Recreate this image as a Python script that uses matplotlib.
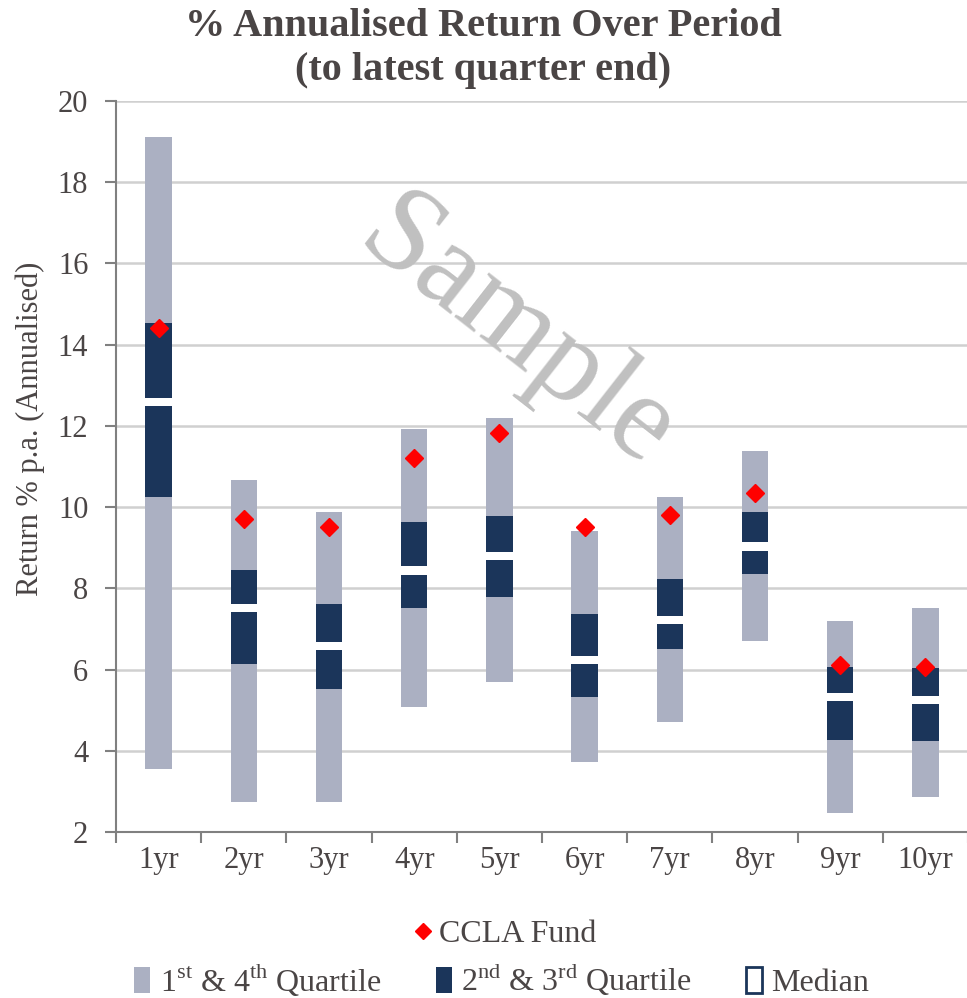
import numpy as np
from matplotlib import pyplot as plt
from matplotlib.patches import Patch
from matplotlib.lines import Line2D

plt.rcParams['font.family'] = ['Liberation Serif', 'DejaVu Serif']
plt.rcParams['mathtext.fontset'] = 'custom'
plt.rcParams['mathtext.rm'] = 'Liberation Serif'

periods = ['1yr', '2yr', '3yr', '4yr', '5yr', '6yr', '7yr', '8yr', '9yr', '10yr']
low = [3.56, 2.75, 2.75, 5.07, 5.70, 3.73, 4.71, 6.70, 2.46, 2.87]      # bottom of range
q3 = [10.24, 6.14, 5.51, 7.52, 7.79, 5.33, 6.50, 8.36, 4.27, 4.25]      # lower quartile
median = [12.58, 7.52, 6.58, 8.44, 8.80, 6.24, 7.22, 9.03, 5.32, 5.25]
q1 = [14.54, 8.45, 7.61, 9.64, 9.78, 7.36, 8.23, 9.88, 6.06, 6.03]      # upper quartile
high = [19.12, 10.67, 9.89, 11.93, 12.20, 9.41, 10.26, 11.37, 7.20, 7.51]
fund = [14.42, 9.70, 9.51, 11.22, 11.82, 9.52, 9.81, 10.36, 6.11, 6.06]

light = '#abb0c2'
dark = '#1b355a'
txt = '#4a4545'

fig = plt.figure(figsize=(9.67, 9.98), dpi=100)
ax = fig.add_axes([0.12, 0.1663, 0.881, 0.7325])

x = np.arange(len(periods))
low_a, q3_a, med_a, q1_a, high_a = map(np.array, (low, q3, median, q1, high))
w = 0.31
ax.bar(x, high_a - low_a, bottom=low_a, width=w, color=light, zorder=2)
ax.bar(x, q1_a - q3_a, bottom=q3_a, width=w, color=dark, zorder=3)
ax.bar(x, 0.2, bottom=med_a - 0.1, width=w, color='white', zorder=4)
ax.plot(x, fund, 'D', color='red', markersize=9, zorder=5)

ax.set_ylim(2, 20)
ax.set_yticks(np.arange(2, 21, 2))
ax.set_xlim(-0.5, len(periods) - 0.5)
ax.set_xticks(x)
ax.set_xticklabels(periods)
ax.set_xticks(np.arange(-0.5, len(periods)), minor=True)
ax.tick_params(axis='x', which='major', length=0, pad=10, labelsize=22, labelcolor=txt)
ax.tick_params(axis='x', which='minor', length=8, width=1.5, color='#808080')
ax.tick_params(axis='y', length=8, width=1.5, color='#808080', labelsize=22, labelcolor=txt, pad=12)
ax.grid(axis='y', color='#d0d0d0', linewidth=1.8, zorder=0)
ax.set_axisbelow(True)
for s in ['top', 'right']:
    ax.spines[s].set_visible(False)
for s in ['left', 'bottom']:
    ax.spines[s].set_color('#808080')
    ax.spines[s].set_linewidth(1.5)

ax.set_ylabel('Return % p.a. (Annualised)', fontsize=22, color=txt)
ax.yaxis.set_label_coords(-0.083, 0.551)
fig.suptitle('% Annualised Return Over Period\n(to latest quarter end)', y=0.992,
             fontsize=29, fontweight='bold', color=txt, linespacing=1.25)

ax.text(0.47, 0.68, 'Sample', transform=ax.transAxes, rotation=-38, fontsize=88,
        color='#c0c0c0', ha='center', va='center', zorder=1)

h_fund = Line2D([], [], marker='D', color='red', linestyle='none', markersize=8)
fig.legend([h_fund], ['CCLA Fund'], loc='center', bbox_to_anchor=(0.522, 0.064),
           frameon=False, fontsize=23, handletextpad=0.2, handlelength=0.6,
           labelcolor=txt, borderpad=0)
h_q14 = Patch(facecolor=light)
h_q23 = Patch(facecolor=dark)
h_med = Patch(facecolor='white', edgecolor=dark, linewidth=2)
fig.legend([h_q14, h_q23, h_med],
           ['1$^{\\rm st}$ & 4$^{\\rm th}$ Quartile', '2$^{\\rm nd}$ & 3$^{\\rm rd}$ Quartile', 'Median'],
           loc='center', bbox_to_anchor=(0.519, 0.019), ncol=3, frameon=False,
           fontsize=23, handletextpad=0.3, handlelength=0.5, handleheight=0.85,
           columnspacing=1.7, labelcolor=txt, borderpad=0)

fig.savefig('out.png', dpi=100)
